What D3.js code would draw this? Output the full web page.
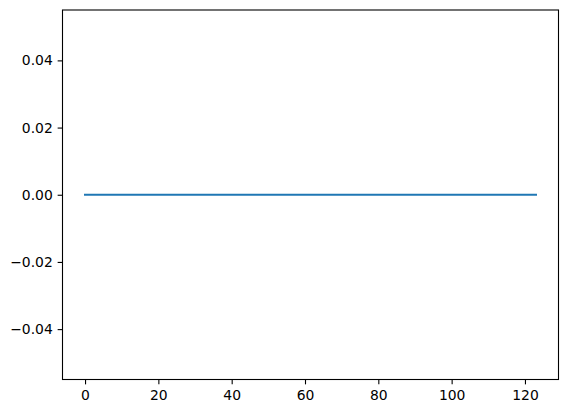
<!DOCTYPE html>
<html><head><meta charset="utf-8">
<script src="https://cdn.jsdelivr.net/npm/d3@7"></script>
<style>body{margin:0;background:#fff}svg{display:block}text{font-family:"DejaVu Sans";font-size:13.9px;fill:#000}</style>
</head><body>
<svg id="c" width="568" height="413"></svg>
<script>
const xValues = [0,1,2,3,4,5,6,7,8,9,10,11,12,13,14,15,16,17,18,19,20,21,22,23,24,25,26,27,28,29,30,31,32,33,34,35,36,37,38,39,40,41,42,43,44,45,46,47,48,49,50,51,52,53,54,55,56,57,58,59,60,61,62,63,64,65,66,67,68,69,70,71,72,73,74,75,76,77,78,79,80,81,82,83,84,85,86,87,88,89,90,91,92,93,94,95,96,97,98,99,100,101,102,103,104,105,106,107,108,109,110,111,112,113,114,115,116,117,118,119,120,121,122,123];
const yValues = [0,0,0,0,0,0,0,0,0,0,0,0,0,0,0,0,0,0,0,0,0,0,0,0,0,0,0,0,0,0,0,0,0,0,0,0,0,0,0,0,0,0,0,0,0,0,0,0,0,0,0,0,0,0,0,0,0,0,0,0,0,0,0,0,0,0,0,0,0,0,0,0,0,0,0,0,0,0,0,0,0,0,0,0,0,0,0,0,0,0,0,0,0,0,0,0,0,0,0,0,0,0,0,0,0,0,0,0,0,0,0,0,0,0,0,0,0,0,0,0,0,0,0,0];
const xTicks = [0,20,40,60,80,100,120];
const yTicks = [-0.04,-0.02,0.00,0.02,0.04];
const yTickLabels = ["\u22120.04","\u22120.02","0.00","0.02","0.04"];

const L=62.5,R=558.5,T=10,B=379.5;
const svg=d3.select("#c");
const x=d3.scaleLinear().domain([-6.15,129.15]).range([L,R]);
const y=d3.scaleLinear().domain([-0.055,0.055]).range([B,T]);

const line=d3.line().x((d,i)=>x(xValues[i])).y(d=>y(d));
svg.append("path").datum(yValues).attr("d",line).attr("fill","none")
  .attr("stroke","#1f77b4").attr("stroke-width",2.08).attr("stroke-linecap","square");

const xa=svg.append("g").attr("transform",`translate(0,${B})`)
  .call(d3.axisBottom(x).tickValues(xTicks).tickFormat(d3.format("d")).tickSizeOuter(0).tickSize(4.86).tickPadding(4.86));
const ya=svg.append("g").attr("transform",`translate(${L},0)`)
  .call(d3.axisLeft(y).tickValues(yTicks).tickFormat((d,i)=>yTickLabels[i]).tickSizeOuter(0).tickSize(4.86).tickPadding(4.86));
[xa,ya].forEach(a=>{a.select(".domain").remove();a.selectAll("line").attr("stroke","#000").attr("stroke-width",1.1);
  a.selectAll("text").attr("font-family","DejaVu Sans").attr("font-size","13.9px").attr("fill","#000");});
xa.selectAll("text").attr("dy","0.75em");

svg.append("rect").attr("x",L).attr("y",T).attr("width",R-L).attr("height",B-T)
  .attr("fill","none").attr("stroke","#000").attr("stroke-width",1.1);
</script>
</body></html>
